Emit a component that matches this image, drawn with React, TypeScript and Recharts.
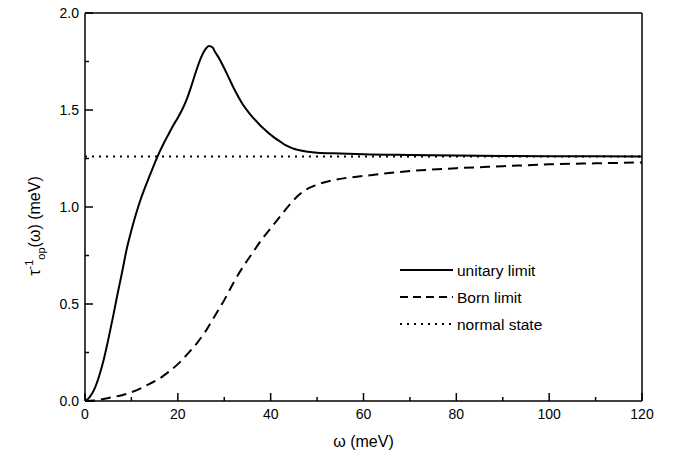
import React from 'react'
import { LineChart, Line, XAxis, YAxis, Legend } from 'recharts'

// ω (meV) and scattering rate (meV)
const unitaryOmega = [0, 1, 2, 3, 4, 5, 6, 7, 8, 9, 10, 11, 12, 13, 14, 15, 16, 17, 18, 19, 20, 21, 22, 23, 24, 25, 26, 26.7, 27.5, 28, 29, 30, 31, 32, 33, 34, 35, 36, 37, 38, 39, 40, 41, 42, 43, 44, 45, 46, 48, 50, 55, 60, 70, 80, 90, 100, 110, 120]
const unitaryRate = [0, 0.02, 0.06, 0.125, 0.21, 0.315, 0.43, 0.55, 0.665, 0.785, 0.88, 0.965, 1.04, 1.105, 1.165, 1.225, 1.28, 1.33, 1.375, 1.42, 1.46, 1.505, 1.56, 1.63, 1.705, 1.77, 1.815, 1.83, 1.822, 1.8, 1.762, 1.715, 1.665, 1.615, 1.57, 1.528, 1.496, 1.466, 1.44, 1.415, 1.393, 1.372, 1.354, 1.338, 1.322, 1.31, 1.3, 1.294, 1.285, 1.28, 1.276, 1.272, 1.268, 1.265, 1.263, 1.262, 1.261, 1.26]

const bornOmega = [0, 2, 4, 6, 8, 10, 12, 14, 16, 18, 20, 22, 24, 26, 28, 30, 32, 34, 36, 38, 40, 42, 44, 46, 48, 50, 55, 60, 70, 80, 90, 100, 110, 120]
const bornRate = [0, 0.003, 0.01, 0.02, 0.03, 0.045, 0.065, 0.09, 0.115, 0.15, 0.19, 0.24, 0.295, 0.36, 0.44, 0.52, 0.61, 0.69, 0.76, 0.83, 0.89, 0.95, 1.01, 1.06, 1.095, 1.115, 1.145, 1.16, 1.185, 1.2, 1.21, 1.22, 1.225, 1.23]

const normalOmega = [0, 120]
const normalRate = [1.26, 1.26]

const xTicks = [0, 10, 20, 30, 40, 50, 60, 70, 80, 90, 100, 110, 120]
const yTicks = [0, 0.25, 0.5, 0.75, 1, 1.25, 1.5, 1.75, 2]

const legendItems = [
  { label: 'unitary limit', dash: undefined },
  { label: 'Born limit', dash: '8 5' },
  { label: 'normal state', dash: '2 5' },
]

const toRows = (xs: number[], ys: number[]) => xs.map((w, i) => ({ w, v: ys[i] }))

const unitaryData = toRows(unitaryOmega, unitaryRate)
const bornData = toRows(bornOmega, bornRate)
const normalData = toRows(normalOmega, normalRate)

const FONT = '"Liberation Sans", Arial, sans-serif'

const XTick = (props: any) => {
  const { x, y, payload } = props
  const major = payload.value % 20 === 0
  return (
    <g>
      <line x1={x} x2={x} y1={y - 4} y2={y - 4 - (major ? 8 : 4)} stroke="#000" strokeWidth={1.5} />
      {major && (
        <text x={x} y={y + 14} textAnchor="middle" fontSize={14} fontFamily={FONT} fill="#000">
          {payload.value}
        </text>
      )}
    </g>
  )
}

const YTick = (props: any) => {
  const { x, y, payload } = props
  const major = Math.abs((payload.value * 2) % 1) < 1e-6
  return (
    <g>
      <line x1={x + 6} x2={x + 6 + (major ? 8 : 4)} y1={y} y2={y} stroke="#000" strokeWidth={1.5} />
      {major && (
        <text x={x} y={y + 5} textAnchor="end" fontSize={14} fontFamily={FONT} fill="#000">
          {payload.value.toFixed(1)}
        </text>
      )}
    </g>
  )
}

const renderLegend = () => (
  <svg width={200} height={80}>
    {legendItems.map((item, i) => (
      <g key={item.label} transform={`translate(0, ${i * 27})`}>
        <line x1={2} x2={55} y1={10} y2={10} stroke="#000" strokeWidth={2} strokeDasharray={item.dash} />
        <text x={59} y={16} fontSize={15.5} fontFamily={FONT} fill="#000">
          {item.label}
        </text>
      </g>
    ))}
  </svg>
)

export default function App() {
  return (
    <div style={{ position: 'absolute', left: 0, top: 0, background: '#fff' }}>
      <LineChart width={680} height={459} margin={{ top: 12, right: 37, left: 0, bottom: 28 }}>
        <XAxis
          dataKey="w"
          type="number"
          domain={[0, 120]}
          ticks={xTicks}
          tick={<XTick />}
          tickLine={false}
          tickSize={0}
          tickMargin={4}
          height={30}
          stroke="#000"
          strokeWidth={1.5}
          allowDataOverflow
          label={{ value: 'ω (meV)', position: 'insideBottom', offset: -16, fontSize: 16, fontFamily: FONT, fill: '#000' }}
        />
        <XAxis xAxisId="top" orientation="top" dataKey="w" type="number" domain={[0, 120]} tick={false} tickLine={false} height={1} stroke="#000" strokeWidth={1.5} />
        <YAxis
          type="number"
          domain={[0, 2]}
          ticks={yTicks}
          tick={<YTick />}
          tickLine={false}
          tickSize={0}
          tickMargin={6}
          width={85}
          stroke="#000"
          strokeWidth={1.5}
          label={() => (
            <text
              transform="translate(40, 226) rotate(-90)"
              textAnchor="middle"
              fontSize={16}
              fontFamily={FONT}
              fill="#000"
            >
              τ<tspan fontSize={11} dy={-7}>-1</tspan>
              <tspan fontSize={11} dy={12}>op</tspan>
              <tspan dy={-5}>(ω) (meV)</tspan>
            </text>
          )}
        />
        <YAxis yAxisId="right" orientation="right" type="number" domain={[0, 2]} tick={false} tickLine={false} width={1} stroke="#000" strokeWidth={1.5} />
        <Legend
          layout="vertical"
          align="center"
          verticalAlign="middle"
          content={renderLegend}
          wrapperStyle={{ position: 'absolute', left: 398, top: 260, width: 200 }}
        />
        <Line data={normalData} xAxisId="top" yAxisId="right" dataKey="v" type="linear" stroke="#000" strokeWidth={2} strokeDasharray="2 5" dot={false} isAnimationActive={false} />
        <Line data={bornData} dataKey="v" type="monotone" stroke="#000" strokeWidth={2} strokeDasharray="10 6" dot={false} isAnimationActive={false} />
        <Line data={unitaryData} dataKey="v" type="monotone" stroke="#000" strokeWidth={2} dot={false} isAnimationActive={false} />
      </LineChart>
    </div>
  )
}
